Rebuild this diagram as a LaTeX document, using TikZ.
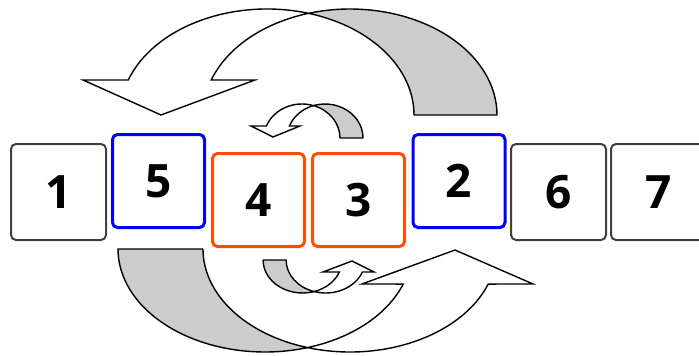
\documentclass[tikz,border=0pt]{standalone}
\usepackage{fontspec}
\setmainfont{Open Sans}
\usetikzlibrary{positioning}

\definecolor{ribbon}{RGB}{204,204,204}
\definecolor{swapblue}{RGB}{0,0,255}
\definecolor{swaporange}{RGB}{255,78,0}

\tikzset{
  cell/.style={draw, fill=white, rounded corners=5pt, inner sep=0pt,
    font=\fontsize{46}{46}\selectfont\bfseries},
  plaincell/.style={cell, draw=black!75, line width=2pt, minimum width=95pt, minimum height=96pt},
  bluecell/.style={cell, draw=swapblue, line width=3pt, minimum width=92pt, minimum height=93pt},
  orangecell/.style={cell, draw=swaporange, line width=3pt, minimum width=92pt, minimum height=93pt},
  ribbonback/.style={draw, line width=1.4pt, fill=ribbon, line join=round},
  arrowfront/.style={draw, line width=1.4pt, fill=white},
}

\begin{document}
\begin{tikzpicture}[x=1pt, y=-1pt]
        \useasboundingbox (0,0) rectangle (699,356);

        % cells
        \node[plaincell] (c1) at (58.5,192) {1};
        \node[bluecell] (c5) at (158.5,181) {5};
        \node[orangecell] (c4) at (258.5,200) {4};
        \node[orangecell] (c3) at (358.5,200) {3};
        \node[bluecell] (c2) at (459,181) {2};
        \node[plaincell] (c6) at (558.5,192) {6};
        \node[plaincell] (c7) at (658.5,192) {7};

        % big arrow over the top
        \draw[ribbonback] ({350+147*cos(-106.4)},{115+106*sin(-106.4)})
            arc[start angle=-106.4, end angle=0, x radius=147, y radius=106]
            -- (414,115)
            arc[start angle=0, end angle=-73.6, x radius=147, y radius=106] -- cycle;
        \draw[arrowfront] ({267+147*cos(-73.6)},{115+106*sin(-73.6)})
            arc[start angle=-73.6, end angle=-160.7, x radius=147, y radius=106]
            -- (83,80) -- (161,115) -- (255,80)
            -- ({350+147*cos(-160.7)},{115+106*sin(-160.7)})
            arc[start angle=-160.7, end angle=-106.4, x radius=147, y radius=106] -- cycle;

        % small arrow over the top
        \draw[ribbonback] ({325+38*cos(-107.6)},{138+34*sin(-107.6)})
            arc[start angle=-107.6, end angle=0, x radius=38, y radius=34]
            -- (340,138)
            arc[start angle=0, end angle=-72.4, x radius=38, y radius=34] -- cycle;
        \draw[arrowfront] ({302+38*cos(-72.4)},{138+34*sin(-72.4)})
            arc[start angle=-72.4, end angle=-159.3, x radius=38, y radius=34]
            -- (251,126) -- (273,137) -- (300,126)
            -- ({325+38*cos(-159.3)},{138+34*sin(-159.3)})
            arc[start angle=-159.3, end angle=-107.6, x radius=38, y radius=34] -- cycle;

        % big arrow underneath
        \draw[ribbonback] ({265+147*cos(73.2)},{249+103*sin(73.2)})
            arc[start angle=73.2, end angle=180, x radius=147, y radius=103]
            -- (203,249)
            arc[start angle=180, end angle=106.8, x radius=147, y radius=103] -- cycle;
        \draw[arrowfront] ({350+147*cos(106.8)},{249+103*sin(106.8)})
            arc[start angle=106.8, end angle=19.9, x radius=147, y radius=103]
            -- (533,284) -- (455,250) -- (362,284)
            -- ({265+147*cos(19.9)},{249+103*sin(19.9)})
            arc[start angle=19.9, end angle=73.2, x radius=147, y radius=103] -- cycle;

        % small arrow underneath
        \draw[ribbonback] ({302.6+39.5*cos(73.1)},{260+33*sin(73.1)})
            arc[start angle=73.1, end angle=180, x radius=39.5, y radius=33]
            -- (286.1,260)
            arc[start angle=180, end angle=106.9, x radius=39.5, y radius=33] -- cycle;
        \draw[arrowfront] ({325.6+39.5*cos(106.9)},{260+33*sin(106.9)})
            arc[start angle=106.9, end angle=21.3, x radius=39.5, y radius=33]
            -- (374,272) -- (352,261) -- (323,272)
            -- ({302.6+39.5*cos(21.3)},{260+33*sin(21.3)})
            arc[start angle=21.3, end angle=73.1, x radius=39.5, y radius=33] -- cycle;

    \end{tikzpicture}
\end{document}
